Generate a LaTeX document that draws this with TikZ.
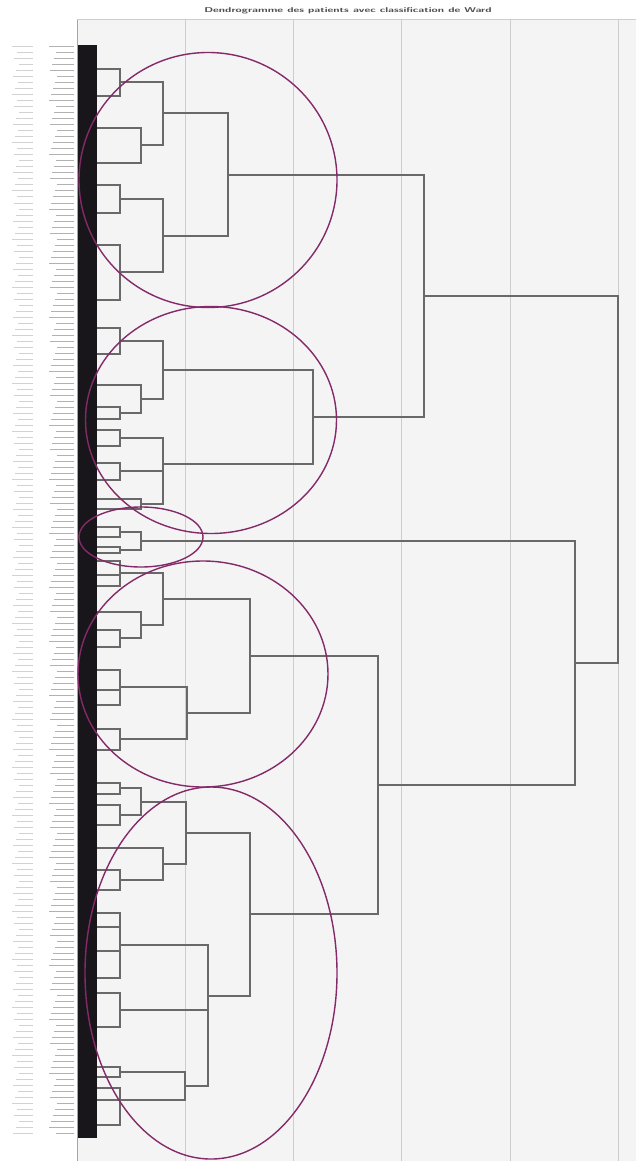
\documentclass[tikz,border=0pt]{standalone}
\usepackage{tikz}
\usetikzlibrary{shapes.geometric}
\definecolor{PlotBg}   {RGB}{244,244,245}
\definecolor{GridGrey} {RGB}{205,205,205}
\definecolor{LinkGrey} {RGB}{105,105,105}
\definecolor{Plum}     {RGB}{132, 42,104}
\definecolor{BarBlack} {RGB}{ 24, 22, 26}
\tikzset{
  link/.style={draw=LinkGrey, line width=1.2pt},
  gridline/.style={draw=GridGrey, line width=1pt},
  cluster/.style={ellipse, draw=Plum, line width=1.4pt, inner sep=0pt},
  leafrow/.style={draw=gray!60, line width=1pt},
  headline/.style={text=gray!60!black, inner sep=0pt,
                   font=\sffamily\bfseries\fontsize{7}{7}\selectfont, xscale=1.6}
}
% merge: from (x1,y1) out to height x, down to y2, back to x2
\newcommand{\dlink}[5]{\draw[link] (#1,#2) -| (#3,#4) -- (#5,#4);}

\begin{document}
\begin{tikzpicture}[x=1pt, y=-1pt]
  \useasboundingbox (0,0) rectangle (636,1161);

  % plot area and grid
  \fill[PlotBg] (77,20) rectangle (636,1161);
  \foreach \gx in {185,293,401,510,618}
    \draw[gridline] (\gx,20) -- (\gx,1161);
  \draw[gridline] (77,20) -- (636,20);
  \draw[draw=gray!70, line width=1pt] (77,20) -- (77,1161);

  \node[headline] (head) at (348,11) {Dendrogramme des patients avec classification de Ward};

  % leaf labels and leaf bar
  \foreach \k in {0,...,181} {
    \draw[leafrow] ({49+mod(\k*7,9)},{47+\k*6}) -- (74,{47+\k*6});
    \draw[leafrow, draw=gray!35] ({12+mod(\k*5,8)},{47+\k*6}) -- (33,{47+\k*6});
  }
  \fill[BarBlack] (78,45) rectangle (97,1138);

  % cluster 1
  \dlink{97}{69}{120}{96}{97}
  \dlink{97}{128}{141}{163}{97}
  \dlink{120}{82}{163}{145}{141}
  \dlink{97}{185}{120}{213}{97}
  \dlink{97}{245}{120}{300}{97}
  \dlink{120}{199}{163}{272}{120}
  \dlink{163}{113}{228}{236}{163}

  % cluster 2
  \dlink{97}{328}{120}{354}{97}
  \dlink{97}{407}{120}{419}{97}
  \dlink{97}{385}{141}{413}{120}
  \dlink{120}{341}{163}{399}{141}
  \dlink{97}{430}{120}{446}{97}
  \dlink{97}{463}{120}{480}{97}
  \dlink{97}{499}{141}{509}{97}
  \dlink{120}{438}{163}{504}{141}
  \draw[link] (120,471) -- (163,471);
  \dlink{163}{370}{313}{464}{163}

  % cluster 3
  \dlink{97}{527}{120}{537}{97}
  \dlink{97}{547}{120}{553}{97}
  \dlink{120}{532}{141}{550}{120}

  % cluster 4
  \dlink{97}{561}{120}{586}{97}
  \draw[link] (97,575) -- (120,575);
  \dlink{97}{630}{120}{647}{97}
  \dlink{97}{612}{141}{638}{120}
  \dlink{120}{573}{163}{625}{141}
  \dlink{97}{670}{120}{705}{97}
  \draw[link] (97,690) -- (120,690);
  \dlink{97}{729}{120}{750}{97}
  \dlink{120}{687}{187}{739}{120}
  \dlink{163}{599}{250}{713}{187}

  % cluster 5
  \dlink{97}{783}{120}{794}{97}
  \dlink{97}{805}{120}{825}{97}
  \dlink{120}{788}{141}{815}{120}
  \dlink{97}{870}{120}{890}{97}
  \dlink{97}{848}{163}{880}{120}
  \dlink{141}{802}{186}{864}{163}
  \dlink{97}{913}{120}{978}{97}
  \draw[link] (97,927) -- (120,927);
  \draw[link] (97,951) -- (120,951);
  \dlink{97}{993}{120}{1027}{97}
  \dlink{97}{1067}{120}{1077}{97}
  \dlink{97}{1088}{120}{1125}{97}
  \draw[link] (97,1100) -- (120,1100);
  \dlink{120}{1072}{185}{1100}{120}
  \dlink{120}{945}{208}{1086}{185}
  \draw[link] (120,1010) -- (208,1010);
  \dlink{186}{833}{250}{996}{208}

  % upper levels
  \dlink{250}{656}{378}{914}{250}
  \dlink{141}{541}{575}{785}{378}
  \dlink{228}{175}{424}{417}{313}
  \dlink{424}{296}{618}{663}{575}

  % cluster rings
  \node[cluster, minimum width=258pt, minimum height=255pt] (c1) at (208,180) {};
  \node[cluster, minimum width=251pt, minimum height=227pt] (c2) at (211,420) {};
  \node[cluster, minimum width=124pt, minimum height=60pt]  (c3) at (141,537) {};
  \node[cluster, minimum width=250pt, minimum height=226pt] (c4) at (203,674) {};
  \node[cluster, minimum width=252pt, minimum height=372pt] (c5) at (211,973) {};
\end{tikzpicture}
\end{document}
